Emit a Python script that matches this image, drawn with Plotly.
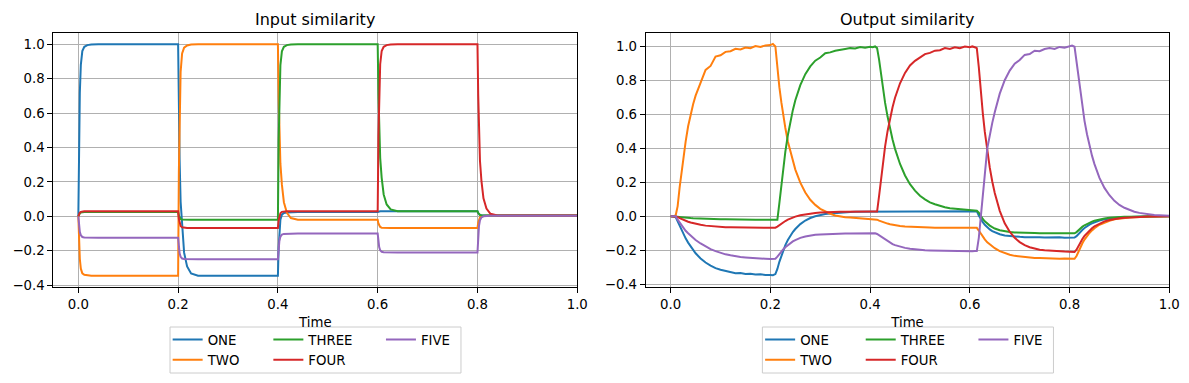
import plotly.graph_objects as go

# ---------------- Input similarity (left) ----------------
t_in = [0.0, 0.0015, 0.003, 0.005, 0.008, 0.012, 0.018, 0.026, 0.04,
        0.2, 0.2015, 0.203, 0.205, 0.208, 0.212, 0.218, 0.226, 0.24,
        0.4, 0.4015, 0.403, 0.405, 0.408, 0.412, 0.418, 0.426, 0.44,
        0.6, 0.6015, 0.603, 0.605, 0.608, 0.612, 0.618, 0.626, 0.64,
        0.8, 0.8015, 0.803, 0.805, 0.808, 0.812, 0.818, 0.826, 0.84,
        1.0]

ONE_in = [0, 0.45, 0.72, 0.88, 0.96, 0.985, 0.995, 0.999, 1.0,
          1.0, 0.597, 0.328, 0.085, -0.076, -0.211, -0.291, -0.332, -0.345,
          -0.345, -0.179, -0.079, -0.019, 0.01, 0.02, 0.023, 0.025, 0.025,
          0.025, 0.027, 0.029, 0.03, 0.03, 0.03, 0.03, 0.03, 0.03,
          0.03, 0.019, 0.012, 0.008, 0.006, 0.005, 0.005, 0.005, 0.005,
          0.005]
TWO_in = [0, -0.155, -0.248, -0.304, -0.331, -0.34, -0.343, -0.345, -0.345,
          -0.345, 0.26, 0.623, 0.839, 0.946, 0.98, 0.993, 0.999, 1.0,
          1.0, 0.694, 0.49, 0.306, 0.184, 0.082, 0.021, -0.01, -0.02,
          -0.02, -0.042, -0.055, -0.062, -0.066, -0.067, -0.068, -0.068, -0.068,
          -0.068, -0.036, -0.017, -0.006, 0.0, 0.002, 0.003, 0.003, 0.003,
          0.003]
THREE_in = [0, 0.011, 0.018, 0.022, 0.024, 0.025, 0.025, 0.025, 0.025,
            0.025, 0.005, -0.007, -0.015, -0.018, -0.019, -0.02, -0.02, -0.02,
            -0.02, 0.439, 0.714, 0.878, 0.959, 0.985, 0.995, 0.999, 1.0,
            1.0, 0.709, 0.515, 0.34, 0.224, 0.127, 0.069, 0.04, 0.03,
            0.03, 0.019, 0.012, 0.008, 0.006, 0.005, 0.005, 0.005, 0.005,
            0.005]
FOUR_in = [0, 0.0135, 0.022, 0.026, 0.029, 0.03, 0.03, 0.03, 0.03,
           0.03, -0.014, -0.041, -0.056, -0.064, -0.067, -0.068, -0.068, -0.068,
           -0.068, -0.024, 0.003, 0.018, 0.026, 0.029, 0.03, 0.03, 0.03,
           0.03, 0.467, 0.728, 0.884, 0.961, 0.985, 0.995, 0.999, 1.0,
           1.0, 0.702, 0.503, 0.323, 0.204, 0.105, 0.045, 0.015, 0.005,
           0.005]
FIVE_in = [0, -0.056, -0.09, -0.11, -0.12, -0.123, -0.124, -0.125, -0.125,
           -0.125, -0.181, -0.215, -0.235, -0.245, -0.248, -0.249, -0.25, -0.25,
           -0.25, -0.183, -0.142, -0.118, -0.106, -0.102, -0.101, -0.1, -0.1,
           -0.1, -0.15, -0.179, -0.197, -0.206, -0.208, -0.209, -0.21, -0.21,
           -0.21, -0.114, -0.057, -0.023, -0.006, 0.0, 0.002, 0.003, 0.003,
           0.003]

# ---------------- Output similarity (right) ----------------
t_out = [0.0, 0.005, 0.01, 0.014, 0.018, 0.022, 0.026, 0.03, 0.035, 0.04, 0.045, 0.05, 0.06,
         0.07, 0.08, 0.09, 0.10, 0.11, 0.12, 0.13, 0.14, 0.15, 0.16, 0.17, 0.18, 0.19,
         0.2, 0.205, 0.21, 0.214, 0.218, 0.222, 0.226, 0.23, 0.235, 0.24, 0.245, 0.25, 0.26,
         0.27, 0.28, 0.29, 0.30, 0.31, 0.32, 0.33, 0.34, 0.35, 0.36, 0.37, 0.38, 0.39,
         0.4, 0.405, 0.41, 0.414, 0.418, 0.422, 0.426, 0.43, 0.435, 0.44, 0.445, 0.45, 0.46,
         0.47, 0.48, 0.49, 0.50, 0.51, 0.52, 0.53, 0.54, 0.55, 0.56, 0.57, 0.58, 0.59,
         0.6, 0.605, 0.61, 0.614, 0.618, 0.622, 0.626, 0.63, 0.635, 0.64, 0.645, 0.65, 0.66,
         0.67, 0.68, 0.69, 0.70, 0.71, 0.72, 0.73, 0.74, 0.75, 0.76, 0.77, 0.78, 0.79,
         0.8, 0.805, 0.81, 0.814, 0.818, 0.822, 0.826, 0.83, 0.835, 0.84, 0.845, 0.85, 0.86,
         0.87, 0.88, 0.89, 0.90, 0.91, 0.92, 0.93, 0.94, 0.95, 0.96, 0.97, 0.98, 0.99,
         1.0]

ONE_out = [0, 0, -0.005, -0.03, -0.06, -0.085, -0.108, -0.13, -0.155, -0.178, -0.2, -0.218, -0.248,
           -0.272, -0.29, -0.305, -0.315, -0.322, -0.328, -0.335, -0.334, -0.34, -0.338, -0.343, -0.341, -0.346,
           -0.345, -0.347, -0.34, -0.31, -0.268, -0.231, -0.199, -0.17, -0.14, -0.114, -0.093, -0.075, -0.046,
           -0.025, -0.01, 0.0, 0.008, 0.013, 0.017, 0.02, 0.022, 0.024, 0.025, 0.026, 0.026, 0.027,
           0.027, 0.027, 0.027, 0.027, 0.028, 0.028, 0.028, 0.028, 0.029, 0.029, 0.029, 0.029, 0.03,
           0.03, 0.03, 0.03, 0.03, 0.03, 0.03, 0.03, 0.03, 0.03, 0.03, 0.03, 0.03, 0.03,
           0.03, 0.03, 0.03, 0.03, 0.004, -0.017, -0.035, -0.05, -0.065, -0.077, -0.087, -0.095, -0.106,
           -0.113, -0.117, -0.12, -0.121, -0.123, -0.122, -0.124, -0.123, -0.125, -0.124, -0.126, -0.124, -0.126,
           -0.126, -0.126, -0.125, -0.117, -0.103, -0.09, -0.079, -0.069, -0.058, -0.049, -0.042, -0.035, -0.025,
           -0.018, -0.013, -0.009, -0.007, -0.005, -0.003, -0.002, -0.002, -0.001, -0.001, 0.0, 0.0, 0.0,
           0.0]
TWO_out = [0, 0, 0.005, 0.06, 0.17, 0.27, 0.36, 0.44, 0.53, 0.6, 0.66, 0.71, 0.79,
           0.862, 0.885, 0.94, 0.948, 0.968, 0.972, 0.986, 0.982, 0.994, 0.99, 1.002, 0.997, 1.006,
           1.008, 1.015, 1.0, 0.86, 0.76, 0.67, 0.59, 0.52, 0.44, 0.38, 0.32, 0.275, 0.198,
           0.14, 0.097, 0.067, 0.044, 0.027, 0.015, 0.005, -0.002, -0.005, -0.007, -0.009, -0.01, -0.012,
           -0.013, -0.014, -0.015, -0.02, -0.026, -0.031, -0.035, -0.039, -0.043, -0.047, -0.05, -0.053, -0.057,
           -0.06, -0.062, -0.064, -0.065, -0.066, -0.066, -0.067, -0.067, -0.067, -0.068, -0.068, -0.068, -0.068,
           -0.068, -0.068, -0.068, -0.068, -0.084, -0.104, -0.121, -0.136, -0.153, -0.166, -0.178, -0.188, -0.205,
           -0.217, -0.226, -0.233, -0.237, -0.241, -0.243, -0.245, -0.246, -0.248, -0.247, -0.249, -0.25, -0.249,
           -0.25, -0.251, -0.25, -0.234, -0.205, -0.179, -0.157, -0.137, -0.116, -0.098, -0.083, -0.07, -0.05,
           -0.036, -0.026, -0.018, -0.013, -0.009, -0.007, -0.005, -0.003, -0.002, -0.002, -0.001, -0.001, 0.0,
           0.0]
THREE_out = [0, 0, 0, -0.002, -0.004, -0.005, -0.007, -0.008, -0.009, -0.01, -0.011, -0.012, -0.014,
             -0.015, -0.016, -0.017, -0.018, -0.018, -0.019, -0.019, -0.019, -0.02, -0.02, -0.02, -0.02, -0.02,
             -0.02, -0.02, -0.02, -0.02, 0.077, 0.192, 0.293, 0.381, 0.477, 0.556, 0.625, 0.683, 0.772,
             0.837, 0.882, 0.916, 0.935, 0.96, 0.965, 0.975, 0.982, 0.985, 0.99, 0.988, 0.997, 0.993,
             0.998, 0.995, 1.0, 0.99, 0.922, 0.828, 0.745, 0.669, 0.587, 0.515, 0.452, 0.397, 0.308,
             0.24, 0.189, 0.151, 0.121, 0.1, 0.082, 0.071, 0.061, 0.053, 0.047, 0.044, 0.04, 0.038,
             0.036, 0.035, 0.034, 0.033, 0.021, 0.001, -0.016, -0.03, -0.044, -0.055, -0.064, -0.072, -0.082,
             -0.089, -0.093, -0.095, -0.097, -0.098, -0.099, -0.099, -0.1, -0.1, -0.1, -0.1, -0.1, -0.1,
             -0.1, -0.1, -0.1, -0.093, -0.081, -0.07, -0.061, -0.053, -0.044, -0.037, -0.031, -0.026, -0.018,
             -0.013, -0.009, -0.006, -0.004, -0.003, -0.002, -0.001, -0.001, 0.0, 0.0, 0.0, 0.0, 0.0,
             0.0]
FOUR_out = [0, 0, 0, -0.004, -0.011, -0.017, -0.022, -0.027, -0.032, -0.037, -0.041, -0.044, -0.05,
            -0.055, -0.058, -0.061, -0.063, -0.064, -0.065, -0.066, -0.066, -0.067, -0.067, -0.067, -0.068, -0.068,
            -0.068, -0.068, -0.067, -0.061, -0.052, -0.043, -0.035, -0.028, -0.02, -0.013, -0.007, -0.002, 0.006,
            0.012, 0.017, 0.02, 0.022, 0.024, 0.025, 0.026, 0.027, 0.027, 0.028, 0.028, 0.028, 0.028,
            0.028, 0.028, 0.028, 0.028, 0.12, 0.23, 0.326, 0.41, 0.501, 0.577, 0.642, 0.698, 0.783,
            0.844, 0.888, 0.915, 0.935, 0.955, 0.962, 0.975, 0.978, 0.99, 0.985, 0.995, 0.99, 1.0,
            0.995, 1.0, 0.995, 0.99, 0.878, 0.733, 0.607, 0.498, 0.383, 0.286, 0.205, 0.137, 0.032,
            -0.041, -0.091, -0.127, -0.152, -0.17, -0.182, -0.191, -0.197, -0.2, -0.203, -0.205, -0.207, -0.208,
            -0.209, -0.21, -0.21, -0.197, -0.172, -0.151, -0.132, -0.115, -0.098, -0.082, -0.07, -0.059, -0.042,
            -0.03, -0.022, -0.015, -0.011, -0.008, -0.006, -0.004, -0.003, -0.002, -0.001, -0.001, 0.0, 0.0,
            0.0]
FIVE_out = [0, 0, 0, -0.02, -0.038, -0.055, -0.07, -0.085, -0.1, -0.115, -0.128, -0.14, -0.16,
            -0.178, -0.193, -0.205, -0.215, -0.224, -0.23, -0.236, -0.24, -0.242, -0.245, -0.247, -0.248, -0.25,
            -0.252, -0.253, -0.25, -0.238, -0.222, -0.207, -0.194, -0.182, -0.169, -0.158, -0.148, -0.14, -0.127,
            -0.119, -0.113, -0.109, -0.107, -0.105, -0.104, -0.103, -0.102, -0.101, -0.101, -0.1, -0.1, -0.1,
            -0.1, -0.1, -0.1, -0.104, -0.112, -0.122, -0.131, -0.139, -0.149, -0.157, -0.164, -0.17, -0.179,
            -0.186, -0.191, -0.195, -0.198, -0.2, -0.201, -0.202, -0.203, -0.204, -0.204, -0.205, -0.205, -0.205,
            -0.205, -0.206, -0.205, -0.205, -0.127, 0.013, 0.136, 0.244, 0.4, 0.48, 0.55, 0.612, 0.722,
            0.801, 0.858, 0.898, 0.92, 0.95, 0.955, 0.975, 0.972, 0.985, 0.99, 0.985, 0.997, 0.993,
            1.0, 1.005, 0.998, 0.913, 0.809, 0.717, 0.635, 0.562, 0.483, 0.415, 0.357, 0.307, 0.226,
            0.167, 0.124, 0.091, 0.067, 0.05, 0.037, 0.027, 0.02, 0.015, 0.011, 0.008, 0.006, 0.004,
            0.003]

names = ["ONE", "TWO", "THREE", "FOUR", "FIVE"]
colors = ["#1f77b4", "#ff7f0e", "#2ca02c", "#d62728", "#9467bd"]
x_ticks = [0.0, 0.2, 0.4, 0.6, 0.8, 1.0]
y_ticks = [-0.4, -0.2, 0.0, 0.2, 0.4, 0.6, 0.8, 1.0]

series_in = [ONE_in, TWO_in, THREE_in, FOUR_in, FIVE_in]
series_out = [ONE_out, TWO_out, THREE_out, FOUR_out, FIVE_out]

# legend columns (matplotlib ncol=3, column-major): ONE/TWO, THREE/FOUR, FIVE
legend_col_in = ["legend", "legend", "legend2", "legend2", "legend3"]
legend_col_out = ["legend4", "legend4", "legend5", "legend5", "legend6"]

fig = go.Figure()
for name, ys, c, lg in zip(names, series_in, colors, legend_col_in):
    fig.add_trace(go.Scatter(x=t_in, y=ys, mode="lines", name=name,
                             line=dict(color=c, width=2), xaxis="x", yaxis="y",
                             legend=lg))
for name, ys, c, lg in zip(names, series_out, colors, legend_col_out):
    fig.add_trace(go.Scatter(x=t_out, y=ys, mode="lines", name=name,
                             line=dict(color=c, width=2), xaxis="x2", yaxis="y2",
                             legend=lg))

font = dict(family="DejaVu Sans", size=13.3, color="black")
axis_common = dict(showline=True, mirror=True, linecolor="black", linewidth=1,
                   ticks="outside", ticklen=5, tickwidth=1, tickcolor="black",
                   showgrid=True, gridcolor="#b0b0b0", gridwidth=1, zeroline=False,
                   tickfont=font, tickformat=".1f", automargin=False)

legend_common = dict(orientation="v", xanchor="left", yanchor="top",
                     borderwidth=0, bgcolor="rgba(0,0,0,0)",
                     font=font, itemwidth=30, tracegroupgap=0)
leg_y = 0.1533

fig.update_layout(
    width=1189, height=383, margin=dict(l=0, r=0, t=0, b=0),
    paper_bgcolor="white", plot_bgcolor="white", font=font,
    xaxis=dict(domain=[0.0449, 0.4855], range=[-0.05, 1.0], tickvals=x_ticks,
               title=dict(text="Time", font=font, standoff=6), anchor="y", **axis_common),
    yaxis=dict(domain=[0.2499, 0.9147], range=[-0.4122, 1.0672], tickvals=y_ticks,
               anchor="x", **axis_common),
    xaxis2=dict(domain=[0.5431, 0.9834], range=[-0.05, 1.0], tickvals=x_ticks,
                title=dict(text="Time", font=font, standoff=6), anchor="y2", **axis_common),
    yaxis2=dict(domain=[0.2499, 0.9147], range=[-0.418, 1.081], tickvals=y_ticks,
                anchor="x2", **axis_common),
    legend=dict(x=0.1410, y=leg_y, **legend_common),
    legend2=dict(x=0.2257, y=leg_y, **legend_common),
    legend3=dict(x=0.3204, y=leg_y, **legend_common),
    legend4=dict(x=0.6393, y=leg_y, **legend_common),
    legend5=dict(x=0.7239, y=leg_y, **legend_common),
    legend6=dict(x=0.8187, y=leg_y, **legend_common),
    shapes=[
        dict(type="rect", xref="paper", yref="paper", x0=0.1430, x1=0.3877, y0=0.0261, y1=0.1462,
             line=dict(color="#cccccc", width=1), fillcolor="rgba(255,255,255,0.8)", layer="above"),
        dict(type="rect", xref="paper", yref="paper", x0=0.6412, x1=0.8860, y0=0.0261, y1=0.1462,
             line=dict(color="#cccccc", width=1), fillcolor="rgba(255,255,255,0.8)", layer="above"),
    ],
    annotations=[
        dict(text="Input similarity", x=0.2652, y=0.948, xref="paper", yref="paper",
             xanchor="center", yanchor="middle", showarrow=False,
             font=dict(family="DejaVu Sans", size=16, color="black")),
        dict(text="Output similarity", x=0.7633, y=0.948, xref="paper", yref="paper",
             xanchor="center", yanchor="middle", showarrow=False,
             font=dict(family="DejaVu Sans", size=16, color="black")),
    ],
)

fig.write_html("out.html", config={"displayModeBar": False},
               post_script="document.body.style.margin='0';")
